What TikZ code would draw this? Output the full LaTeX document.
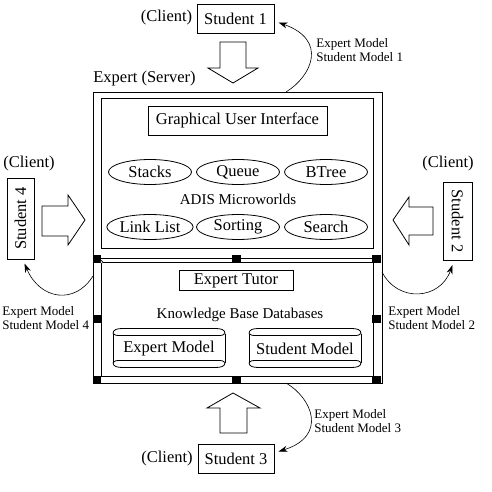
\documentclass[tikz,border=0pt]{standalone}
\usepackage{fontspec}
\setmainfont{Liberation Serif}
\usetikzlibrary{shapes.geometric,arrows.meta}
\begin{document}
\begin{tikzpicture}[x=1pt,y=-1pt,
  line width=0.8pt,
  txt/.style={font=\fontsize{16.5}{18}\selectfont, inner sep=0pt},
  mid/.style={font=\fontsize{15}{17}\selectfont, inner sep=0pt},
  lbl/.style={font=\fontsize{13}{14.5}\selectfont, inner sep=0pt, align=left, anchor=west},
  plainbox/.style={draw, inner sep=0pt},
  ell/.style={draw, ellipse, txt, minimum width=83pt, minimum height=25pt},
  conn/.style={-{Stealth[length=9pt,width=6pt]}, line width=0.6pt},
  blk/.style={draw, fill=white, line width=0.8pt, line join=miter},
  handle/.style={fill=black},
  dbcyl/.pic={
    \draw (0,5) .. controls (0,1) and (4,0) .. (10,0) -- (102,0) .. controls (108,0) and (112,1) .. (112,5);
    \draw (0,5) .. controls (2,7) .. (10,7) -- (102,7) .. controls (110,7) .. (112,5);
    \draw (0,5) -- (0,34);
    \draw (112,5) -- (112,34);
    \draw (0,34) .. controls (2,32) .. (10,32) -- (102,32) .. controls (110,32) .. (112,34);
    \draw (0,34) .. controls (0,38) and (4,39) .. (10,39) -- (102,39) .. controls (108,39) and (112,38) .. (112,34);
  }
]
\useasboundingbox (0,0) rectangle (491,492);

% server frame
\node[plainbox, minimum width=289pt, minimum height=291pt] (server) at (237.5,237.5) {};
\node[plainbox, minimum width=272pt, minimum height=150pt] (upper) at (237,173) {};
\node[plainbox, minimum width=272pt, minimum height=114pt] (lower) at (237,319) {};
\draw (lower.north west |- 0,258.5) -- (lower.north east |- 0,258.5);
\node[txt, anchor=west] (servertxt) at (93,79) {Expert (Server)};

% selection handles
\foreach \hx/\hy in {97/258.5, 236.5/258.5, 376.5/258.5, 97/319, 376.5/319, 97/379.5, 236.5/379.5, 376.5/379.5}
  \fill[handle] (\hx-4.2,\hy-4) rectangle (\hx+4.2,\hy+4);
\draw[line width=0.5pt, fill=white] (101.5,262) circle (1.6pt);

% upper content
\node[plainbox, txt, minimum width=179pt, minimum height=29pt] (gui) at (237.5,120.5) {Graphical User Interface};
\node[ell] (stacks) at (150,172) {Stacks};
\node[ell] (queue) at (238,172) {Queue};
\node[ell] (btree) at (326,172) {BTree};
\node[mid] (adis) at (238,199) {ADIS Microworlds};
\node[ell] (linklist) at (150,227) {Link List};
\node[ell] (sorting) at (238,227) {Sorting};
\node[ell] (search) at (326,227) {Search};

% lower content
\node[plainbox, txt, minimum width=114pt, minimum height=20pt] (tutor) at (236,280.5) {Expert Tutor};
\node[mid] (kbd) at (240,315) {Knowledge Base Databases};
\pic at (113,328.5) {dbcyl};
\pic at (249,328.5) {dbcyl};
\node[txt] (expertmodel) at (169,348.5) {Expert Model};
\node[txt] (studentmodel) at (305,348.5) {Student Model};

% clients
\node[plainbox, txt, minimum width=77pt, minimum height=29pt] (s1) at (235.5,18.5) {Student 1};
\node[txt] (c1) at (166.5,18) {(Client)};
\node[plainbox, txt, minimum width=76pt, minimum height=29pt] (s3) at (236,458.5) {Student 3};
\node[txt] (c3) at (167,459) {(Client)};
\node[plainbox, txt, minimum width=81pt, minimum height=27pt, rotate=90] (s4) at (20.5,218.5) {Student 4};
\node[txt] (c4) at (29,164) {(Client)};
\node[plainbox, txt, minimum width=78pt, minimum height=29pt, rotate=-90] (s2) at (457.5,221) {Student 2};
\node[txt] (c2) at (448,164) {(Client)};

% block arrows
\draw[blk] (220,42) -- (246,42) -- (246,68) -- (258,68) -- (233,83) -- (208,68) -- (220,68) -- cycle;
\draw[blk] (233,393) -- (260,408) -- (247,408) -- (247,433) -- (220,433) -- (220,408) -- (207,408) -- cycle;
\draw[blk] (42,206) -- (68,206) -- (68,195) -- (85,220) -- (68,245) -- (68,236) -- (42,236) -- cycle;
\draw[blk] (393,220) -- (409,197) -- (409,207) -- (433,207) -- (433,235) -- (409,235) -- (409,245) -- cycle;

% curved connectors
\coordinate (a1) at (286,92);
\coordinate (t1) at (278.5,22.5);
\coordinate (a2) at (382,272);
\coordinate (t2) at (452.5,265);
\coordinate (a3) at (286,383);
\coordinate (t3) at (278.5,451.5);
\coordinate (a4) at (93,276);
\coordinate (t4) at (24.5,263.5);
\draw[conn] (a1) .. controls (312,76) and (328,40) .. (t1);
\draw[conn] (a3) .. controls (312,398) and (328,436) .. (t3);
\draw[conn] (a4) .. controls (75,305) and (40,300) .. (t4);
\draw[conn] (a2) .. controls (398,303) and (440,300) .. (t2);

% labels
\node[lbl] (l1) at (316,50) {Expert Model\\Student Model 1};
\node[lbl] (l2) at (388,318) {Expert Model\\Student Model 2};
\node[lbl] (l3) at (314,421) {Expert Model\\Student Model 3};
\node[lbl] (l4) at (2,318) {Expert Model\\Student Model 4};
\end{tikzpicture}
\end{document}
